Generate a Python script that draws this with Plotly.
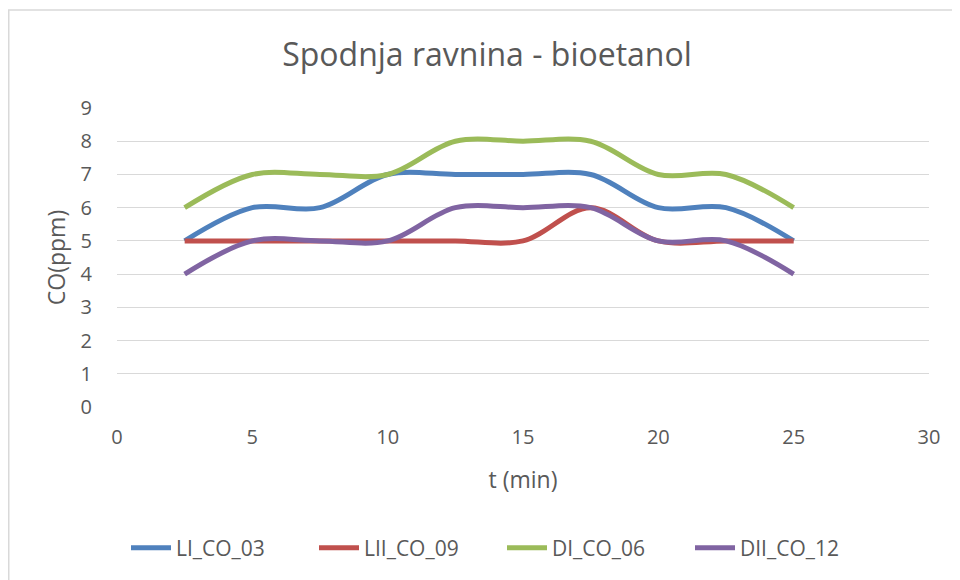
import plotly.graph_objects as go

t_min = [2.5, 5, 7.5, 10, 12.5, 15, 17.5, 20, 22.5, 25]
LI_CO_03 = [5, 6, 6, 7, 7, 7, 7, 6, 6, 5]
LII_CO_09 = [5, 5, 5, 5, 5, 5, 6, 5, 5, 5]
DI_CO_06 = [6, 7, 7, 7, 8, 8, 8, 7, 7, 6]
DII_CO_12 = [4, 5, 5, 5, 6, 6, 6, 5, 5, 4]

series = [
    ("LI_CO_03", LI_CO_03, "#4F81BD"),
    ("LII_CO_09", LII_CO_09, "#C0504D"),
    ("DI_CO_06", DI_CO_06, "#9BBB59"),
    ("DII_CO_12", DII_CO_12, "#8064A2"),
]

FONT = "Open Sans"
GREY = "#595959"

fig = go.Figure()
for name, vals, col in series:
    fig.add_trace(go.Scatter(
        x=t_min, y=vals, name=name, mode="lines",
        line=dict(color=col, width=5, shape="spline", smoothing=1),
    ))

# page body has an 8px margin; figure coordinates = screen - 8
W, H = 952, 572
L, R, T, B = 109, 31, 100, 173
pw, ph = W - L - R, H - T - B

def px(x):
    return (x - L) / pw

def py(y):
    return (H - B - y) / ph

fig.update_layout(
    width=W, height=H,
    margin=dict(l=L, r=R, t=T, b=B, autoexpand=False),
    paper_bgcolor="white", plot_bgcolor="white",
    font=dict(family=FONT, color=GREY, size=20),
    title=dict(text="Spodnja ravnina - bioetanol", x=479 / W, xref="container",
               y=1 - 47 / H, yanchor="middle", xanchor="center",
               font=dict(size=32, color=GREY, family=FONT)),
    xaxis=dict(range=[0, 30], dtick=5, tick0=0, showgrid=False, zeroline=False,
               showline=False, ticks="", ticklabelstandoff=16,
               tickfont=dict(size=20, color=GREY),
               title=dict(text="t (min)", font=dict(size=23, color=GREY), standoff=22)),
    yaxis=dict(range=[0, 9], dtick=1, tick0=0, showgrid=True, gridcolor="#D9D9D9",
               gridwidth=1.3, zeroline=False, showline=False, ticks="",
               ticklabelstandoff=24,
               tickfont=dict(size=20, color=GREY),
               title=dict(text="CO(ppm)", font=dict(size=23, color=GREY), standoff=8)),
    legend=dict(orientation="h", x=px(494), xanchor="center", xref="paper",
                y=py(540), yanchor="middle", font=dict(size=21, color=GREY),
                itemwidth=40, traceorder="normal", bgcolor="rgba(0,0,0,0)",
                entrywidth=133, entrywidthmode="pixels"),
    shapes=[
        dict(type="line", xref="paper", yref="paper", x0=px(0), x1=px(960),
             y0=py(2), y1=py(2), line=dict(color="#D9D9D9", width=1.5)),
        dict(type="line", xref="paper", yref="paper", x0=px(0.75), x1=px(0.75),
             y0=py(2), y1=py(580), line=dict(color="#D9D9D9", width=1.5)),
    ],
)

fig.write_html("out.html")
